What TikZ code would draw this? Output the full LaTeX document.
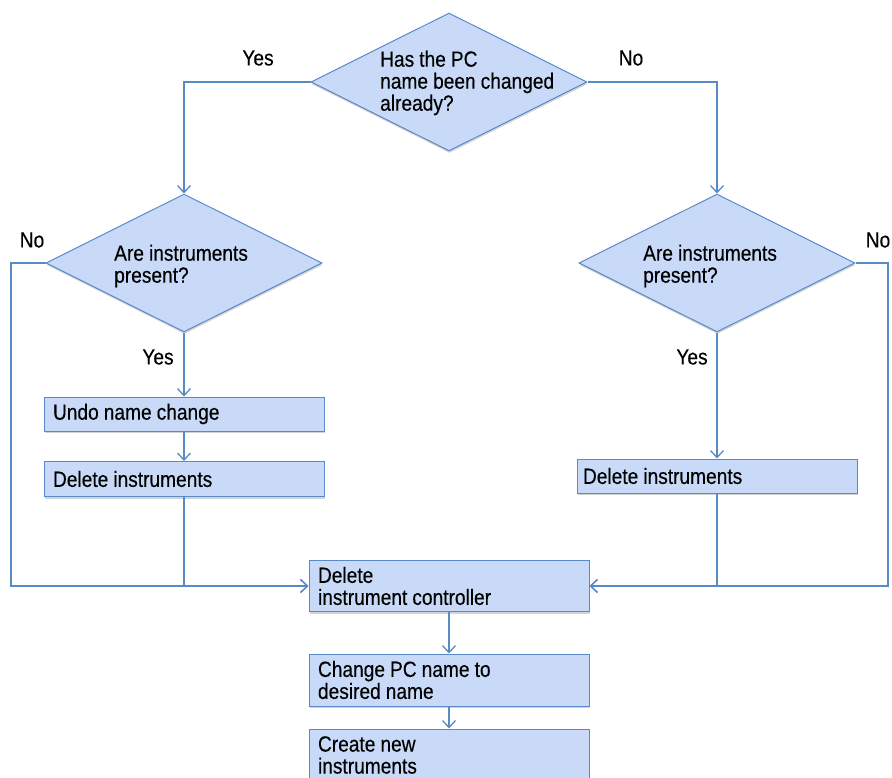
\documentclass[tikz,border=0pt]{standalone}
\usepackage{fontspec}
\setmainfont{Liberation Sans}[FakeStretch=0.87, WordSpace=0.95, FakeBold=0.3]
\usetikzlibrary{shapes.geometric,arrows.meta,shadows}
\definecolor{boxfill}{RGB}{201,218,248}
\definecolor{linecol}{RGB}{88,138,200}
\begin{document}
\begin{tikzpicture}[x=1pt,y=-1pt,
  every node/.style={font=\fontsize{22}{22}\selectfont},
  flowline/.style={draw=linecol, line width=1.3pt},
  arr/.style={flowline, -{Straight Barb[length=7pt,width=13pt]}},
  softshadow/.style={drop shadow={shadow xshift=0.5pt, shadow yshift=-2pt, opacity=0.35, fill=black!50}},
  dec/.style={diamond, draw=linecol, fill=boxfill, line width=1pt, minimum width=276pt, minimum height=138pt, inner sep=0pt, softshadow},
  stepbox/.style={rectangle, draw=linecol, fill=boxfill, line width=1pt, minimum width=280pt, text width=262pt, inner xsep=9pt, inner ysep=0pt, align=flush left, softshadow},
  lbl/.style={inner sep=0pt},
  dtext/.style={inner sep=0pt, align=left, anchor=west}]
\useasboundingbox (0,0) rectangle (892,778);
% decisions
\node[dec] (d0) at (449,82) {};
\node[dtext] (t0) at (380,83) {Has the PC\\name been changed\\already?};
\node[dec] (d1) at (184,263) {};
\node[dtext] (t1) at (114,266) {Are instruments\\present?};
\node[dec] (d2) at (717,263) {};
\node[dtext] (t2) at (643,266) {Are instruments\\present?};
% steps
\node[stepbox, minimum height=34pt] (undo) at (184,414) {Undo name change};
\node[stepbox, minimum height=35pt] (del1) at (184,479) {Delete instruments};
\node[stepbox, minimum height=34pt, inner xsep=6pt, text width=268pt] (del2) at (717,476) {Delete instruments};
\node[stepbox, minimum height=51pt] (ctrl) at (449,586) {Delete\\instrument controller};
\node[stepbox, minimum height=52pt] (change) at (449,680) {Change PC name to\\desired name};
\node[stepbox, minimum height=52pt] (create) at (449,755) {Create new\\instruments};
% labels
\node[lbl] (y0) at (258,58) {Yes};
\node[lbl] (n0) at (631,58) {No};
\node[lbl] (n1) at (32,240) {No};
\node[lbl] (n2) at (878,240) {No};
\node[lbl] (y1) at (158,357) {Yes};
\node[lbl] (y2) at (692,357) {Yes};
% corners
\coordinate (lc) at (11,586);
\coordinate (rc) at (888,586);
% connectors
\draw[arr] (d0.west) -| (d1.north);
\draw[arr] (d0.east) -| (d2.north);
\draw[arr] (d1.south) -- (undo.north);
\draw[arr] (undo.south) -- (del1.north);
\draw[arr] (d2.south) -- (del2.north);
\draw[arr] (del1.south) |- (ctrl.west);
\draw[arr] (d1.west) -| (lc) -- (ctrl.west);
\draw[arr] (del2.south) |- (ctrl.east);
\draw[arr] (d2.east) -| (rc) -- (ctrl.east);
\draw[arr] (ctrl.south) -- (change.north);
\draw[arr] (change.south) -- (create.north);
\end{tikzpicture}
\end{document}
